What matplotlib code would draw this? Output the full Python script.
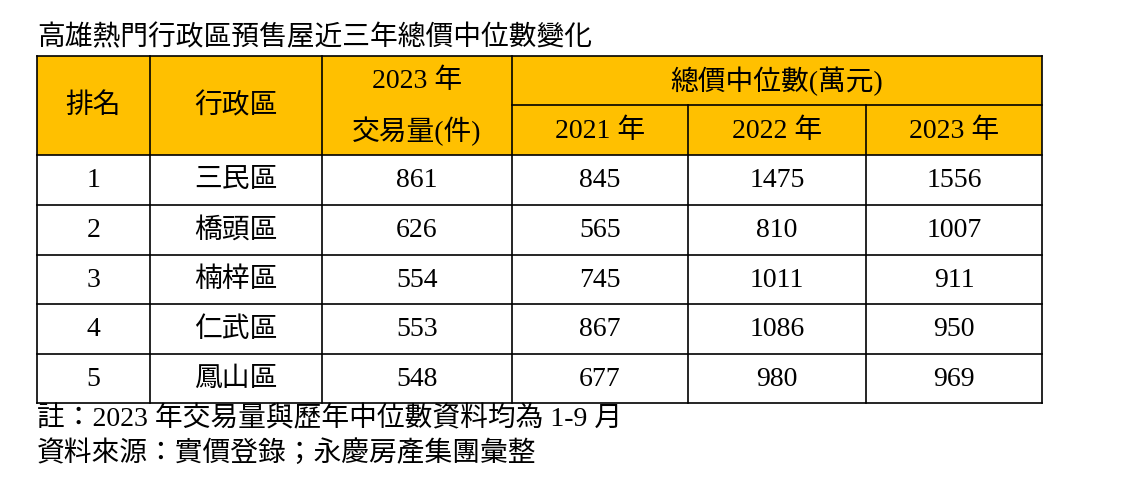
import matplotlib
matplotlib.use("Agg")
import matplotlib.pyplot as plt
from matplotlib.patches import Rectangle
from matplotlib import font_manager as fm

title = "高雄熱門行政區預售屋近三年總價中位數變化"
ranks = ["1", "2", "3", "4", "5"]
districts = ["三民區", "橋頭區", "楠梓區", "仁武區", "鳳山區"]
volume_2023 = [861, 626, 554, 553, 548]
median_2021 = [845, 565, 745, 867, 677]
median_2022 = [1475, 810, 1011, 1086, 980]
median_2023 = [1556, 1007, 911, 950, 969]
notes = ["註：2023 年交易量與歷年中位數資料均為 1-9 月", "資料來源：實價登錄；永慶房產集團彙整"]

cjk = None
for f in fm.fontManager.ttflist:
    if "CJK" in f.name:
        if cjk is None or "TC" in f.name:
            cjk = f.name
plt.rcParams["font.family"] = ["Liberation Serif", cjk or "DejaVu Sans"]

fig = plt.figure(figsize=(11.38, 4.85), dpi=100)
ax = fig.add_axes([0, 0, 1, 1])
ax.set_xlim(0, 1138); ax.set_ylim(485, 0); ax.axis("off")

cols = [37, 150, 322, 512, 688, 866, 1042]
rows = [57, 106, 156, 206, 256, 305, 355, 404]
fs = 20
orange = "#FFC000"
ax.add_patch(Rectangle((cols[0], rows[0]), cols[-1]-cols[0], rows[2]-rows[0], facecolor=orange, edgecolor="none"))

def cx(i, j=None):
    j = i + 1 if j is None else j
    return (cols[i] + cols[j]) / 2
def cy(i, j=None):
    j = i + 1 if j is None else j
    return (rows[i] + rows[j]) / 2

ax.text(cols[0], 38, title, fontsize=fs, va="center", ha="left")
ax.text(cx(0), cy(0, 2), "排名", fontsize=fs, ha="center", va="center")
ax.text(cx(1), cy(0, 2), "行政區", fontsize=fs, ha="center", va="center")
ax.text(cx(2), cy(0), "2023 年", fontsize=fs, ha="center", va="center")
ax.text(cx(2), cy(1), "交易量(件)", fontsize=fs, ha="center", va="center")
ax.text(cx(3, 6), cy(0), "總價中位數(萬元)", fontsize=fs, ha="center", va="center")
for k, y in enumerate(["2021 年", "2022 年", "2023 年"]):
    ax.text(cx(3 + k), cy(1), y, fontsize=fs, ha="center", va="center")

for r in range(5):
    vals = [ranks[r], districts[r], volume_2023[r], median_2021[r], median_2022[r], median_2023[r]]
    for c, v in enumerate(vals):
        ax.text(cx(c), cy(2 + r), str(v), fontsize=fs, ha="center", va="center")

lw = 1.2
for y in [rows[0], rows[2], rows[3], rows[4], rows[5], rows[6], rows[7]]:
    ax.plot([cols[0], cols[-1]], [y, y], color="black", lw=lw)
ax.plot([cols[3], cols[-1]], [rows[1], rows[1]], color="black", lw=lw)
for i, x in enumerate(cols):
    top = rows[1] if i in (4, 5) else rows[0]
    ax.plot([x, x], [top, rows[-1]], color="black", lw=lw)

ax.text(cols[0], 419, notes[0], fontsize=fs, va="center", ha="left")
ax.text(cols[0], 454, notes[1], fontsize=fs, va="center", ha="left")
fig.savefig("out.png", dpi=100)
